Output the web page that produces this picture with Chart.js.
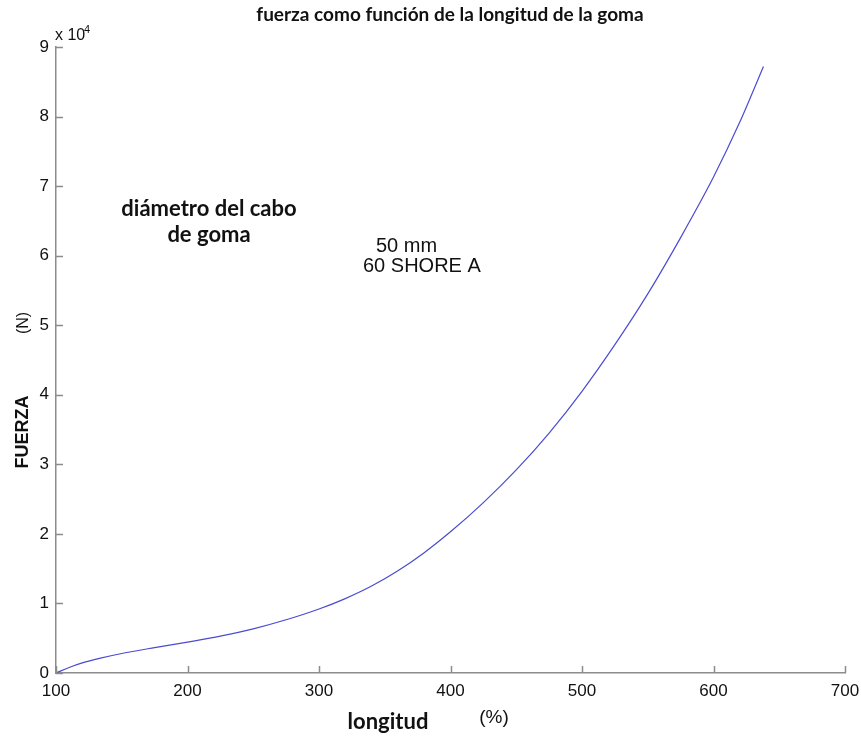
<!DOCTYPE html>
<html>
<head>
<meta charset="utf-8">
<script src="https://cdn.jsdelivr.net/npm/chart.js@4.4.1/dist/chart.umd.min.js"></script>
<style>
  html, body { margin: 0; padding: 0; background: #fff; }
  #wrap { width: 861px; height: 737px; position: relative; }
</style>
</head>
<body>
<div id="wrap"><canvas id="fuerza"></canvas></div>
<script>
// fuerza vs longitud de la goma
const longitud = [100, 110, 120, 133, 150, 175, 200, 225, 250, 275, 300, 320, 340, 360, 380, 400, 425, 450, 475, 500, 525, 550, 575, 600, 620, 638];
const fuerza = [0, 800, 1450, 2100, 2800, 3650, 4450, 5300, 6350, 7650, 9200, 10700, 12500, 14700, 17300, 20300, 24500, 29200, 34500, 40500, 47200, 54500, 62600, 71300, 79200, 87200];
const xTicks = [100, 200, 300, 400, 500, 600, 700];
const yTicks = [0, 1, 2, 3, 4, 5, 6, 7, 8, 9];   // x 10^4

const CAL = 'Lato, "Open Sans", sans-serif';
const ARIAL = '"Liberation Sans", Arial, sans-serif';

const textos = {
  id: 'textos',
  afterDraw(chart) {
    const ctx = chart.ctx;
    const xs = chart.scales.x, ys = chart.scales.y;
    const area = chart.chartArea;
    ctx.save();
    // inward tick marks, matlab style
    ctx.strokeStyle = '#8c8c8c';
    ctx.lineWidth = 1.5;
    ctx.beginPath();
    xTicks.forEach(v => {
      const px = Math.round(xs.getPixelForValue(v)) + 0.5;
      ctx.moveTo(px, area.bottom);
      ctx.lineTo(px, area.bottom - 7);
    });
    yTicks.forEach(v => {
      const py = Math.round(ys.getPixelForValue(v * 1e4)) + 0.5;
      ctx.moveTo(area.left, py);
      ctx.lineTo(area.left + 7, py);
    });
    ctx.stroke();

    ctx.fillStyle = '#111';
    ctx.textBaseline = 'alphabetic';
    // title
    ctx.textAlign = 'center';
    ctx.font = 'bold 19px ' + CAL;
    ctx.fillText('fuerza como función de la longitud de la goma', 450, 21);
    // x label
    ctx.font = 'bold 22px ' + CAL;
    ctx.fillText('longitud', 388, 729);
    ctx.font = '19px ' + ARIAL;
    ctx.fillText('(%)', 494, 723);
    // annotations
    ctx.font = 'bold 22px ' + CAL;
    ctx.fillText('diámetro del cabo', 209, 216);
    ctx.fillText('de goma', 209, 242);
    ctx.textAlign = 'left';
    ctx.font = '20px ' + ARIAL;
    ctx.fillText('50 mm', 376, 252);
    ctx.fillText('60 SHORE A', 363, 272);
    // exponent
    ctx.font = '16px ' + ARIAL;
    ctx.fillText('x 10', 55, 40);
    ctx.font = '11px ' + ARIAL;
    ctx.fillText('4', 84, 33);
    // y label, rotated
    ctx.save();
    ctx.translate(28, 432);
    ctx.rotate(-Math.PI / 2);
    ctx.textAlign = 'center';
    ctx.font = 'bold 18px ' + ARIAL;
    ctx.fillText('FUERZA', 0, 0);
    ctx.restore();
    ctx.save();
    ctx.translate(28, 323);
    ctx.rotate(-Math.PI / 2);
    ctx.textAlign = 'center';
    ctx.font = '16px ' + ARIAL;
    ctx.fillText('(N)', 0, 0);
    ctx.restore();
    ctx.restore();
  }
};

new Chart(document.getElementById('fuerza'), {
  type: 'scatter',
  data: {
    datasets: [{
      data: longitud.map((x, i) => ({ x, y: fuerza[i] })),
      showLine: true,
      borderColor: '#4b4bd2',
      borderWidth: 1.2,
      pointRadius: 0,
      cubicInterpolationMode: 'monotone',
      fill: false
    }]
  },
  plugins: [textos],
  options: {
    responsive: true,
    maintainAspectRatio: false,
    animation: false,
    layout: { padding: { top: 47, right: 16, left: 0, bottom: 0 } },
    plugins: { legend: { display: false }, tooltip: { enabled: false } },
    scales: {
      x: {
        type: 'linear', min: 100, max: 700,
        afterFit: s => { s.height = 64; s.paddingRight = 0; s.paddingLeft = 0; },
        afterBuildTicks: s => { s.ticks = xTicks.map(v => ({ value: v })); },
        grid: { display: true, drawOnChartArea: false, drawTicks: false },
        border: { display: true, color: '#8c8c8c', width: 1.5 },
        ticks: { padding: 8, color: '#111', font: { family: ARIAL, size: 17 } }
      },
      y: {
        type: 'linear', min: 0, max: 90000,
        afterFit: s => { s.width = 56; s.paddingTop = 0; s.paddingBottom = 0; },
        afterBuildTicks: s => { s.ticks = yTicks.map(v => ({ value: v * 1e4 })); },
        grid: { display: true, drawOnChartArea: false, drawTicks: false },
        border: { display: true, color: '#8c8c8c', width: 1.5 },
        ticks: { padding: 7, color: '#111', font: { family: ARIAL, size: 17 },
                 callback: v => String(v / 1e4) }
      }
    }
  }
});
</script>
</body>
</html>
